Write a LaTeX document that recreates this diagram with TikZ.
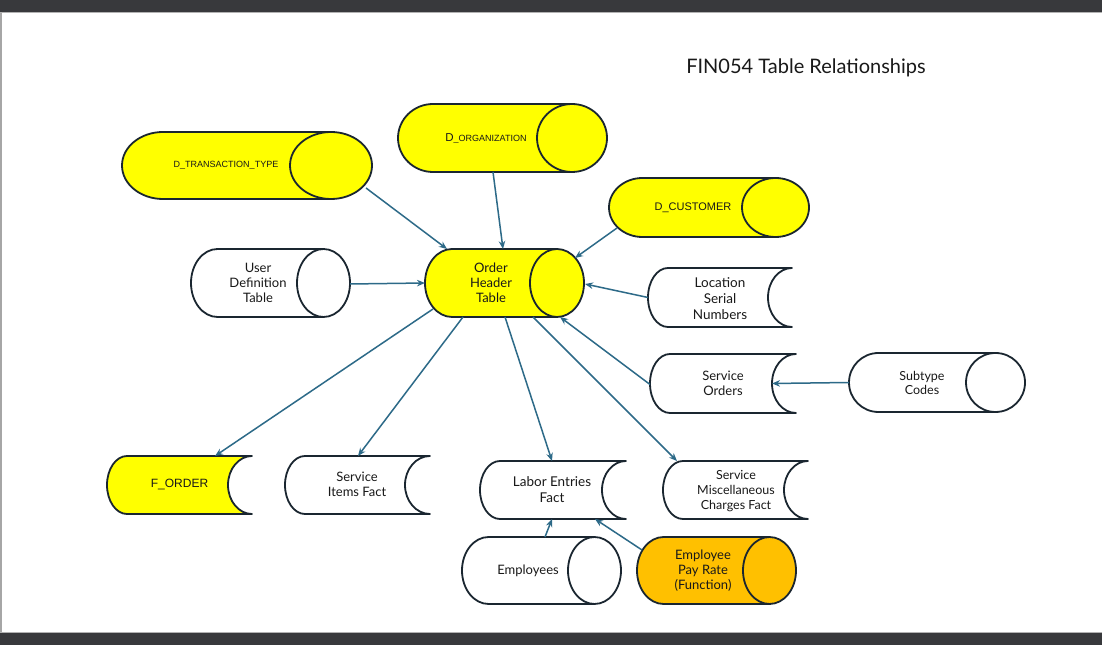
\documentclass[tikz,border=0pt]{standalone}
\usepackage{fontspec}
\setmainfont{Lato}
\newfontfamily\arialf{Liberation Sans}
\usetikzlibrary{arrows.meta,calc}
\definecolor{ylw}{HTML}{FFFF00}
\definecolor{orng}{HTML}{FFC000}
\definecolor{outl}{HTML}{1A2630}
\definecolor{arrc}{HTML}{2D6A88}
\definecolor{barc}{HTML}{38393C}
\tikzset{
  shapeline/.style={draw=outl, line width=1.8pt, line join=round},
  box/.style={rectangle, draw=none, inner sep=0pt, outer sep=0pt},
  lbl/.style={align=center, font=\fontsize{13}{15}\selectfont, text=black!90, inner sep=0pt},
  dlbl/.style={align=center, text=black!90, inner sep=0pt},
  conn/.style={draw=arrc, line width=1.5pt, -{Stealth[length=8pt,width=6.5pt]}, shorten >=0pt},
}
% name, x1, x2, yc(px), rx, ry, fill
\newcommand\cylshape[7]{%
  \path[shapeline, fill=#7] (#3-#5,645-#4+#6) -- (#2+#5,645-#4+#6)
    arc[start angle=90,end angle=270,x radius=#5pt,y radius=#6pt]
    -- (#3-#5,645-#4-#6)
    arc[start angle=-90,end angle=90,x radius=#5pt,y radius=#6pt] -- cycle;
  \draw[shapeline] (#3-#5,645-#4+#6) arc[start angle=90,end angle=270,x radius=#5pt,y radius=#6pt];
  \node[box, minimum width={(#3-#2)*1pt}, minimum height={2*#6*1pt}] (#1) at ({(#2+#3)/2},645-#4) {};
}
% name, x1, x2, yc(px), ry, a, b, fill
\newcommand\storshape[8]{%
  \path[shapeline, fill=#8] (#2+#6,645-#4+#5) -- (#3,645-#4+#5)
    arc[start angle=90,end angle=270,x radius=#7pt,y radius=#5pt]
    -- (#2+#6,645-#4-#5)
    arc[start angle=270,end angle=90,x radius=#6pt,y radius=#5pt] -- cycle;
  \node[box, minimum width={(#3-#2)*1pt}, minimum height={2*#5*1pt}] (#1) at ({(#2+#3)/2},645-#4) {};
}
\begin{document}
\begin{tikzpicture}[x=1pt,y=1pt]
\useasboundingbox (0,0) rectangle (1102,645);
\fill[white] (0,0) rectangle (1102,645);
\fill[barc] (0,633) rectangle (1102,645);
\fill[barc] (0,0) rectangle (1102,12);
\fill[gray!70] (0,12) rectangle (1.5,633);
\draw[gray!60, line width=0.8pt] (0,632.6) -- (1102,632.6);
\draw[gray!60, line width=0.8pt] (0,12.4) -- (1102,12.4);

\node[font=\fontsize{20}{23}\selectfont, text=black!90, inner sep=0pt] (title) at (806,645-68) {FIN054 Table Relationships};

% cylinders
\cylshape{dtt}{122}{372}{165.5}{41}{33.5}{ylw}
\cylshape{dorg}{398}{607}{138}{35}{34}{ylw}
\cylshape{dcust}{609}{809}{207.5}{33.5}{29.5}{ylw}
\cylshape{udt}{191}{350}{283}{26.5}{34}{white}
\cylshape{oh}{425}{584}{283}{27}{34}{ylw}
\cylshape{sub}{849}{1025}{382.5}{29.5}{29.5}{white}
\cylshape{emp}{462}{621}{570.5}{26.5}{33.5}{white}
\cylshape{epr}{637}{796}{570.5}{26.5}{33.5}{orng}

% stored data shapes
\storshape{lsn}{648}{792}{297.5}{29.5}{20}{24}{white}
\storshape{so}{650}{796}{383.5}{29.5}{20}{24}{white}
\storshape{fo}{107}{252}{485}{29}{20}{24}{ylw}
\storshape{sif}{285}{430}{485}{29}{20}{25}{white}
\storshape{lef}{480}{626}{490}{29}{20}{24}{white}
\storshape{smc}{663}{808}{490}{29}{20}{24}{white}

% labels
\node[dlbl, font=\arialf\fontsize{9}{11}\selectfont] (dttt) at (226,645-165.5) {D\_TRANSACTION\_TYPE};
\node[dlbl, font=\arialf\fontsize{9}{11}\selectfont] (dorgt) at (486,645-138.5) {{\fontsize{11.5}{13}\selectfont D}\_ORGANIZATION};
\node[dlbl, font=\arialf\fontsize{11}{13}\selectfont] (dcustt) at (693,645-207.5) {D\_CUSTOMER};
\node[dlbl, font=\arialf\fontsize{12}{14}\selectfont] (fot) at (179.5,645-485) {F\_ORDER};
\node[lbl] (udtt) at (258,645-283) {User\\Definition\\Table};
\node[lbl] (oht) at (491,645-283) {Order\\Header\\Table};
\node[lbl, font=\fontsize{13.5}{16}\selectfont] (lsnt) at (720,645-298.5) {Location\\Serial\\Numbers};
\node[lbl] (sot) at (723,645-383.5) {Service\\Orders};
\node[lbl, font=\fontsize{12.5}{14.5}\selectfont] (subt) at (922,645-383) {Subtype\\Codes};
\node[lbl] (sift) at (357,645-484) {Service\\Items Fact};
\node[lbl, font=\fontsize{13.5}{15.5}\selectfont] (left) at (552,645-489.5) {Labor Entries\\Fact};
\node[lbl, font=\fontsize{12.5}{15}\selectfont] (smct) at (736,645-491) {Service\\Miscellaneous\\Charges Fact};
\node[lbl] (empt) at (528,645-571) {Employees};
\node[lbl] (eprt) at (703,645-571) {Employee\\Pay Rate\\(Function)};

% connectors
\draw[conn] ([shift={(-6,11)}]dtt.south east) -- ([shift={(22,0)}]oh.north west);
\draw[conn] ([shift={(95,0)}]dorg.south west) -- ([shift={(78,0)}]oh.north west);
\draw[conn] ([shift={(8,9)}]dcust.south west) -- ([shift={(-9,-9)}]oh.north east);
\draw[conn] ([shift={(0,-1)}]udt.east) -- (oh.west);
\draw[conn] (lsn.west) -- ([shift={(1,-1)}]oh.east);
\draw[conn] ([shift={(0,-1)}]so.west) -- ([shift={(-24,0)}]oh.south east);
\draw[conn] (sub.west) -- ([shift={(-24,0)}]so.east);
\draw[conn] ([shift={(8,8)}]oh.south west) -- ([shift={(108,0)}]fo.north west);
\draw[conn] ([shift={(38,0)}]oh.south west) -- ([shift={(73,0)}]sif.north west);
\draw[conn] ([shift={(80,0)}]oh.south west) -- ([shift={(72,0)}]lef.north west);
\draw[conn] ([shift={(108,0)}]oh.south west) -- ([shift={(14,0)}]smc.north west);
\draw[conn] ([shift={(83,0)}]emp.north west) -- ([shift={(72,0)}]lef.south west);
\draw[conn] ([shift={(5,-13)}]epr.north west) -- ([shift={(-31,0)}]lef.south east);
\end{tikzpicture}
\end{document}
